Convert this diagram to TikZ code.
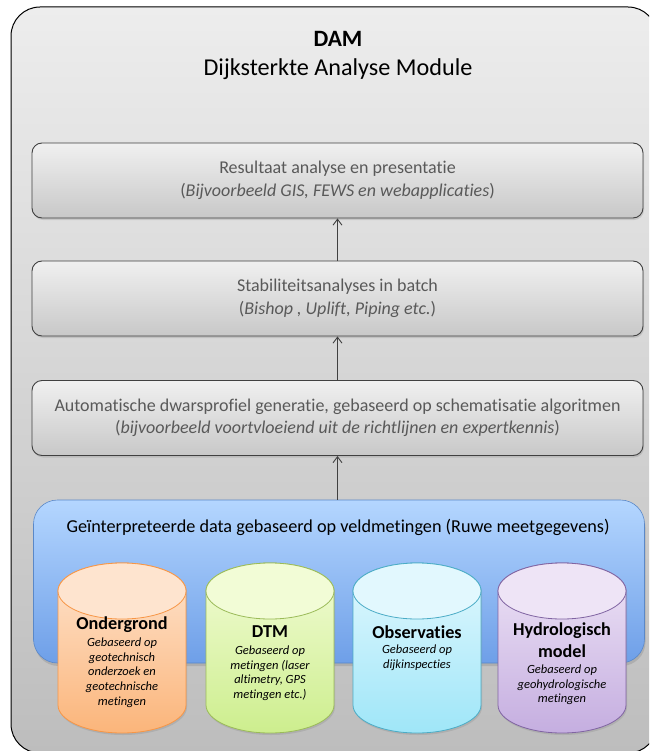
\documentclass[tikz,border=0pt]{standalone}
\usepackage{fontspec}
\setmainfont{Carlito}[Ligatures={NoCommon}, RawFeature={-calt;-dlig}]
\usetikzlibrary{arrows.meta,shadows}

\definecolor{framegrayTop}{HTML}{EDEDED}
\definecolor{framegrayBot}{HTML}{BDBDBD}
\definecolor{stageTop}{HTML}{F0F0F0}
\definecolor{stageBot}{HTML}{C8C8C8}
\definecolor{stageText}{HTML}{595959}
\definecolor{blueTop}{HTML}{B4D6FF}
\definecolor{blueBot}{HTML}{6E9FE8}
\definecolor{blueEdge}{HTML}{5A88C8}
\definecolor{orTop}{HTML}{FEE4CF}
\definecolor{orBot}{HTML}{FBB57A}
\definecolor{orEdge}{HTML}{F79646}
\definecolor{grTop}{HTML}{F2FCD6}
\definecolor{grBot}{HTML}{CDEE8E}
\definecolor{grEdge}{HTML}{9BBB59}
\definecolor{cyTop}{HTML}{E2F8FE}
\definecolor{cyBot}{HTML}{9FE6F8}
\definecolor{cyEdge}{HTML}{4BACC6}
\definecolor{viTop}{HTML}{EEE4F6}
\definecolor{viBot}{HTML}{C5AEE0}
\definecolor{viEdge}{HTML}{8064A2}

\tikzset{
  stagebox/.style={draw=black!75, line width=0.9pt, rounded corners=10pt,
    top color=stageTop, bottom color=stageBot,
    minimum width=611pt, minimum height=75pt, align=center,
    text=stageText, font=\fontsize{18}{22.5}\selectfont,
    drop shadow={opacity=0.25, shadow xshift=1pt, shadow yshift=-2pt}},
  flow/.style={draw=black!75, line width=1.1pt,
    -{Straight Barb[length=6pt,width=9pt,line width=0.9pt]}},
  dbtitle/.style={font=\bfseries\fontsize{18.2}{21.5}\selectfont, align=center},
  dbnote/.style={font=\itshape\fontsize{12.5}{14.8}\selectfont, align=center},
}

% cylinder drawn around centre x #1, colours #2 (top), #3 (bottom), #4 (edge)
\newcommand{\datacyl}[4]{%
  \path[top color=#2, bottom color=#3, draw=#4, line width=0.8pt,
        drop shadow={opacity=0.25, shadow xshift=1pt, shadow yshift=-2pt}]
    (#1-64,591) -- (#1-64,705) arc[start angle=180, end angle=360, x radius=64, y radius=-28]
    -- (#1+64,591) arc[start angle=0, end angle=180, x radius=64, y radius=-28] -- cycle;
  \path[fill=#2, draw=#4, line width=0.8pt]
    (#1,591) ellipse[x radius=64, y radius=28];
}

\begin{document}
\begin{tikzpicture}[x=1pt,y=-1pt]
\useasboundingbox (0,0) rectangle (649,751);
\begin{scope}
\clip (0,0) rectangle (649,751);
\fill[white] (0,0) rectangle (649,751);

% outer module frame
\draw[line width=1pt, rounded corners=29pt, top color=framegrayTop, bottom color=framegrayBot]
  (11,7) rectangle (657,753);

\node[font=\bfseries\fontsize{23.4}{26}\selectfont] (dam) at (338,39) {DAM};
\node[font=\fontsize{24.2}{28}\selectfont] (damfull) at (338,69) {Dijksterkte Analyse Module};

% processing stages
\node[stagebox] (result) at (337.5,180.5)
  {Resultaat analyse en presentatie\\(\textit{Bijvoorbeeld GIS, FEWS en webapplicaties})};
\node[stagebox] (stab) at (337.5,298.5)
  {Stabiliteitsanalyses in batch\\(\textit{Bishop , Uplift, Piping etc.})};
\node[stagebox] (profile) at (337.5,418)
  {Automatische dwarsprofiel generatie, gebaseerd op schematisatie algoritmen\\(\textit{bijvoorbeeld voortvloeiend uit de richtlijnen en expertkennis})};

% data layer
\node[draw=blueEdge, line width=0.6pt, rounded corners=24pt,
      top color=blueTop, bottom color=blueBot,
      minimum width=611pt, minimum height=163pt,
      drop shadow={opacity=0.3, shadow xshift=1pt, shadow yshift=-3pt}]
  (data) at (339,581.5) {};
\node[font=\fontsize{18.2}{21}\selectfont, anchor=center] (datalabel) at (338,527)
  {Geïnterpreteerde data gebaseerd op veldmetingen (Ruwe meetgegevens)};

% connectors
\draw[flow] (data.north -| profile.south) -- (profile.south);
\draw[flow] (profile.north) -- (stab.south);
\draw[flow] (stab.north) -- (result.south);

% data sources
\datacyl{122}{orTop}{orBot}{orEdge}
\datacyl{270}{grTop}{grBot}{grEdge}
\datacyl{417}{cyTop}{cyBot}{cyEdge}
\datacyl{562}{viTop}{viBot}{viEdge}

\node[dbtitle] (ond) at (122,625) {Ondergrond};
\node[dbnote, anchor=north] (ondtxt) at (122,634)
  {Gebaseerd op\\geotechnisch\\onderzoek en\\geotechnische\\metingen};

\node[dbtitle] (dtm) at (270,632) {DTM};
\node[dbnote, anchor=north] (dtmtxt) at (270,642)
  {Gebaseerd op\\metingen (laser\\altimetry, GPS\\metingen etc.)};

\node[dbtitle] (obs) at (417,632) {Observaties};
\node[dbnote, anchor=north] (obstxt) at (417,641)
  {Gebaseerd op\\dijkinspecties};

\node[dbtitle] (hyd) at (562,640) {Hydrologisch\\model};
\node[dbnote, anchor=north] (hydtxt) at (562,661)
  {Gebaseerd op\\geohydrologische\\metingen};
\end{scope}
\end{tikzpicture}
\end{document}
